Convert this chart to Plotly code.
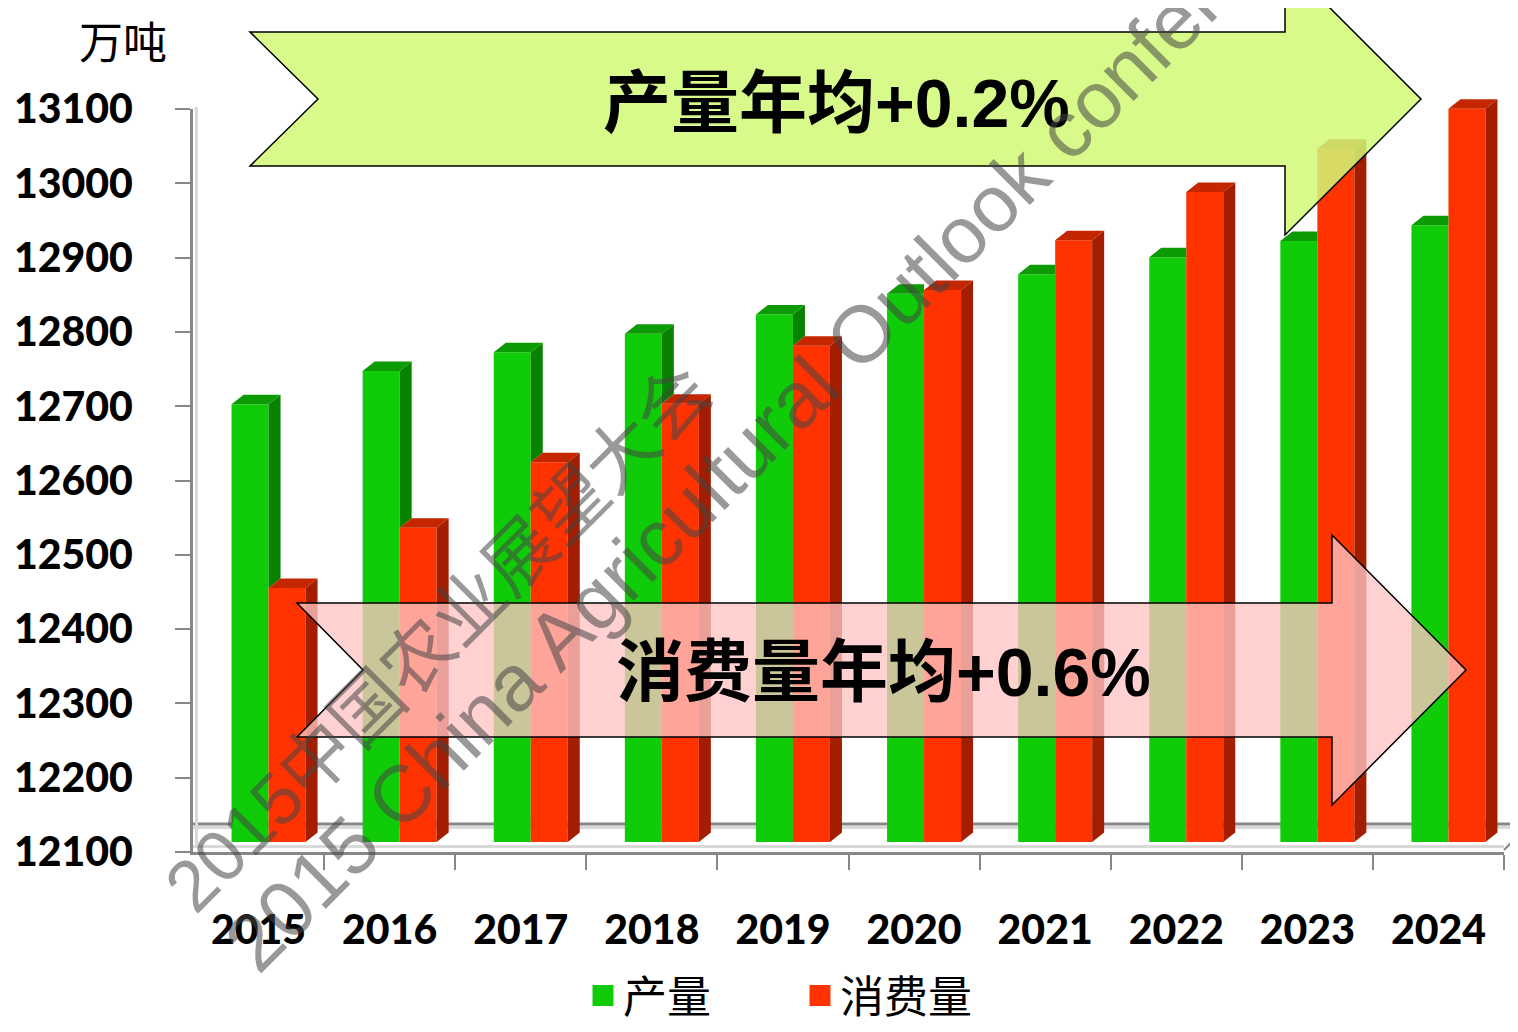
import plotly.graph_objects as go

# ---------------- data ----------------
years = ['2015', '2016', '2017', '2018', '2019', '2020', '2021', '2022', '2023', '2024']
production = [12689, 12734, 12759, 12784, 12810, 12838, 12864, 12887, 12909, 12930]
consumption = [12442, 12523, 12611, 12690, 12768, 12843, 12910, 12975, 13033, 13087]
y_ticks = [12100, 12200, 12300, 12400, 12500, 12600, 12700, 12800, 12900, 13000, 13100]
y_tick_labels = ['12100', '12200', '12300', '12400', '12500', '12600', '12700', '12800', '12900', '13000', '13100']
series_names = ['产量', '消费量']
unit_label = '万吨'
prod_note = '产量年均+0.2%'
cons_note = '消费量年均+0.6%'
watermark_cn = '2015中国农业展望大会'
watermark_en = '2015 China Agricultural Outlook conference'

# ---------------- geometry / style ----------------
OFF = 8                     # page offset of the figure (default body margin)
W, H = 1510, 1024
ML, MR, MT, MB = 185, 4, 91, 180
PW = W - ML - MR
PH = H - MT - MB
SHIFT = 10                  # px offset of the bar plane (3-D depth)


def px(x):   # page pixel -> paper
    return (x - OFF - ML) / PW


def py(y):
    return (H - MB - (y - OFF)) / PH


G_FRONT, G_SIDE, G_TOP = '#10CC08', '#088200', '#0C9A05'
R_FRONT, R_SIDE, R_TOP = '#FF3300', '#A31E00', '#C42600'
AXIS_C = '#878787'
LIGHT_C = '#D9D9D9'

idx = list(range(len(years)))
ymin, ymax = y_ticks[0], y_ticks[-1]
bargap = 0.4354
w = (1 - bargap) / 2
unit_px_x = (PW - SHIFT) / len(years)
unit_px_y = (PH - SHIFT) / (ymax - ymin)
dxu = 12 / unit_px_x
dyu = 9.5 / unit_px_y

fig = go.Figure()

fig.add_trace(go.Bar(x=idx, y=production, name=series_names[0], marker=dict(color=G_FRONT, line=dict(width=0)),
                     xaxis='x2', yaxis='y2', showlegend=False, hoverinfo='skip'))
fig.add_trace(go.Bar(x=idx, y=consumption, name=series_names[1], marker=dict(color=R_FRONT, line=dict(width=0)),
                     xaxis='x2', yaxis='y2', showlegend=False, hoverinfo='skip'))


def poly_trace(polys, color):
    xs, ys = [], []
    for p in polys:
        for (a, b) in p:
            xs.append(a)
            ys.append(b)
        xs.append(p[0][0])
        ys.append(p[0][1])
        xs.append(None)
        ys.append(None)
    return go.Scatter(x=xs, y=ys, mode='lines', line=dict(width=0), fill='toself', fillcolor=color,
                      xaxis='x2', yaxis='y2', showlegend=False, hoverinfo='skip')


g_side, g_top, r_side, r_top = [], [], [], []
for i, gt, rt in zip(idx, production, consumption):
    gl, gr = i - w, i
    rl, rr = i, i + w
    if gt > rt:
        g_side.append([(gr, rt), (gr + dxu, rt + dyu), (gr + dxu, gt + dyu), (gr, gt)])
        g_top.append([(gl, gt), (gl + dxu, gt + dyu), (gr + dxu, gt + dyu), (gr, gt)])
    else:
        g_top.append([(gl, gt), (gl + dxu, gt + dyu), (gr, gt + dyu), (gr, gt)])
    r_side.append([(rr, ymin), (rr + dxu, ymin + dyu), (rr + dxu, rt + dyu), (rr, rt)])
    r_top.append([(rl, rt), (rl + dxu, rt + dyu), (rr + dxu, rt + dyu), (rr, rt)])

fig.add_trace(poly_trace(g_side, G_SIDE))
fig.add_trace(poly_trace(g_top, G_TOP))
fig.add_trace(poly_trace(r_side, R_SIDE))
fig.add_trace(poly_trace(r_top, R_TOP))

# legend entries (on the front axes so that subplot is drawn)
for nm, col in zip(series_names, [G_FRONT, R_FRONT]):
    fig.add_trace(go.Scatter(x=[None], y=[None], mode='markers', name=nm,
                             marker=dict(symbol='square', size=16, color=col, line=dict(width=5, color=col)),
                             xaxis='x', yaxis='y'))

tick_font = dict(family='Lato', size=41, color='black', weight=900)

shapes = [
    dict(type='line', xref='paper', yref='paper', x0=px(193), x1=px(1518), y0=py(827.5), y1=py(827.5),
         line=dict(color=LIGHT_C, width=3), layer='below'),
    dict(type='line', xref='paper', yref='paper', x0=px(193), x1=px(1518), y0=py(824), y1=py(824),
         line=dict(color=AXIS_C, width=3), layer='below'),
    dict(type='line', xref='paper', yref='paper', x0=px(193), x1=px(1504), y0=py(846.5), y1=py(846.5),
         line=dict(color=LIGHT_C, width=3), layer='below'),
    dict(type='line', xref='paper', yref='paper', x0=px(1504), x1=px(1518), y0=py(850), y1=py(836),
         line=dict(color=AXIS_C, width=2), layer='below'),
    dict(type='line', xref='paper', yref='paper', x0=px(196.5), x1=px(196.5), y0=py(107), y1=py(846),
         line=dict(color=LIGHT_C, width=3), layer='below'),
]


def path_from(points):
    return 'M' + ' L'.join('%.5f,%.5f' % (px(a), py(b)) for a, b in points) + ' Z'


green_arrow = [(250, 32), (1285, 32), (1285, -37), (1421, 99), (1285, 235), (1285, 166), (250, 166), (318, 99)]
red_arrow = [(297, 603), (1332, 603), (1332, 535), (1466, 670), (1332, 805), (1332, 737), (297, 737), (363, 670)]

shapes.append(dict(type='path', xref='paper', yref='paper', path=path_from(green_arrow),
                   fillcolor='rgba(208,249,118,0.85)', line=dict(color='black', width=1.5), layer='above'))
shapes.append(dict(type='path', xref='paper', yref='paper', path=path_from(red_arrow),
                   fillcolor='rgba(255,196,196,0.78)', line=dict(color='black', width=1.5), layer='above'))

note_font = dict(family='Liberation Sans, Noto Sans CJK SC', size=68, color='black', weight='bold')
wm_color = 'rgba(70,70,70,0.55)'

annotations = [
    dict(text=unit_label, xref='paper', yref='paper', x=px(123), y=py(40), showarrow=False,
         font=dict(family='Noto Sans CJK SC', size=44, color='black'), xanchor='center', yanchor='middle'),
    dict(text=prod_note, xref='paper', yref='paper', x=px(836), y=py(103), showarrow=False,
         font=note_font, xanchor='center', yanchor='middle'),
    dict(text=cons_note, xref='paper', yref='paper', x=px(883), y=py(672), showarrow=False,
         font=note_font, xanchor='center', yanchor='middle'),
    dict(text=watermark_cn, xref='paper', yref='paper', x=px(438), y=py(638), showarrow=False, textangle=-45,
         font=dict(family='Liberation Sans, Noto Sans CJK SC', size=72, color=wm_color),
         xanchor='center', yanchor='middle'),
    dict(text=watermark_en, xref='paper', yref='paper', x=px(784), y=py(411), showarrow=False, textangle=-45,
         font=dict(family='Liberation Sans', size=80, color=wm_color),
         xanchor='center', yanchor='middle'),
]

fig.update_layout(
    width=W, height=H,
    margin=dict(l=ML, r=MR, t=MT, b=MB, pad=0, autoexpand=False),
    paper_bgcolor='white', plot_bgcolor='rgba(0,0,0,0)',
    barmode='group', bargap=bargap, bargroupgap=0,
    showlegend=True,
    legend=dict(orientation='h', x=px(583), xanchor='left', y=py(996), yanchor='middle',
                font=dict(family='Noto Sans CJK SC', size=44, color='black'),
                entrywidth=172, itemsizing='trace', bgcolor='rgba(0,0,0,0)', borderwidth=0),
    xaxis=dict(domain=[0, (PW - SHIFT) / PW], range=[-0.5, len(years) - 0.5], anchor='y',
               tickmode='array', tickvals=idx, ticktext=years, ticks='',
               showline=True, linecolor=AXIS_C, linewidth=3, showgrid=False, zeroline=False,
               tickfont=tick_font, ticklabelstandoff=40, automargin=False,
               minor=dict(tickmode='array', tickvals=[i + 0.5 for i in idx], ticks='outside',
                          ticklen=15, tickwidth=2, tickcolor=AXIS_C, showgrid=False)),
    yaxis=dict(domain=[0, (PH - SHIFT) / PH], range=[ymin, ymax], anchor='x',
               tickmode='array', tickvals=y_ticks, ticktext=y_tick_labels,
               ticks='outside', ticklen=15, tickwidth=2, tickcolor=AXIS_C,
               showline=True, linecolor=AXIS_C, linewidth=3, showgrid=False, zeroline=False,
               tickfont=tick_font, ticklabelstandoff=34, automargin=False),
    xaxis2=dict(domain=[SHIFT / PW, 1], range=[-0.5, len(years) - 0.5], anchor='y2', visible=False),
    yaxis2=dict(domain=[SHIFT / PH, 1], range=[ymin, ymax], anchor='x2', visible=False),
    shapes=shapes,
    annotations=annotations,
)

fig.write_html('out.html')
